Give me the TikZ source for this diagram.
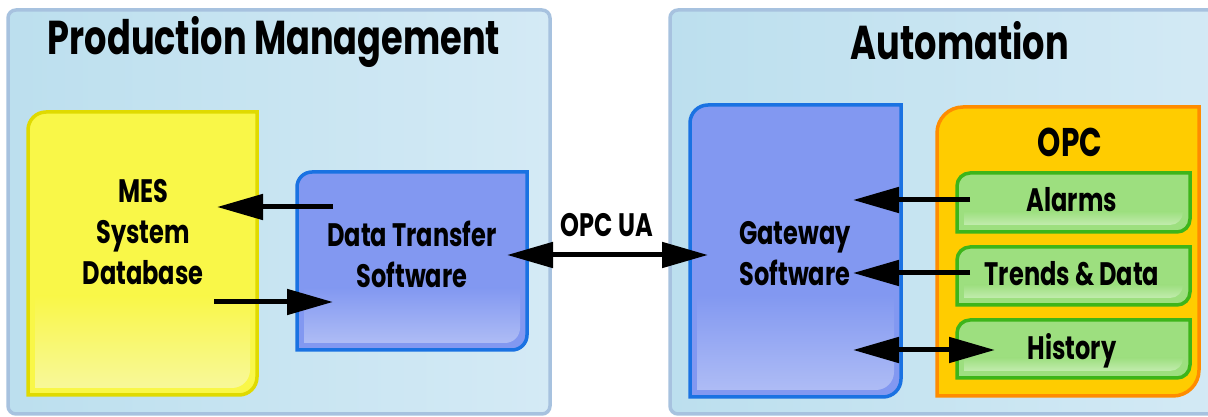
\documentclass[tikz,border=0pt]{standalone}
\usepackage{fontspec}
\setmainfont{Poppins}[FakeStretch=0.74]
\usetikzlibrary{arrows.meta}
\definecolor{panelL}{HTML}{BCDFEE}
\definecolor{panelR}{HTML}{D4EAF5}
\definecolor{panelB}{HTML}{A7C2DF}
\definecolor{ylw}{HTML}{F9F748}
\definecolor{ylwL}{HTML}{F8F89A}
\definecolor{ylwB}{HTML}{E0DA00}
\definecolor{blu}{HTML}{8298F1}
\definecolor{bluL}{HTML}{AEBCF5}
\definecolor{bluB}{HTML}{1A72E2}
\definecolor{org}{HTML}{FFCC00}
\definecolor{orgB}{HTML}{FF8C00}
\definecolor{grn}{HTML}{9DDF7F}
\definecolor{grnL}{HTML}{C2ECAE}
\definecolor{grnB}{HTML}{3DB51A}
\newcommand\gbox[8]{%
 \fill[#6] (#1,#2) -- (#1,#4-#5) arc[start angle=180,end angle=90,radius=#5] -- (#3,#4) -- (#3,#2+#5) arc[start angle=0,end angle=-90,radius=#5] -- cycle;
 \shade[top color=#6, bottom color=#7] (#1+7,#2+7) -- (#1+7,{#2+0.35*(#4-#2)}) -- (#3-7,{#2+0.35*(#4-#2)}) -- (#3-7,#2+7+#5) arc[start angle=0,end angle=-90,radius=#5] -- cycle;
 \draw[#8, line width=3.5pt] (#1,#2) -- (#1,#4-#5) arc[start angle=180,end angle=90,radius=#5] -- (#3,#4) -- (#3,#2+#5) arc[start angle=0,end angle=-90,radius=#5] -- cycle;
}
\tikzset{
 lbl/.style={font=\fontsize{32.5}{41}\selectfont\bfseries, align=center, inner sep=0pt},
 ttl/.style={font=\fontsize{47.5}{52}\selectfont\bfseries, inner sep=0pt, anchor=base},
 opcttl/.style={font=\fontsize{40}{46}\selectfont\bfseries, inner sep=0pt, anchor=base},
 tip/.tip={Triangle[length=46pt,width=25pt]},
 arr/.style={line width=5pt, -tip},
 darr/.style={line width=5pt, tip-tip},
 panel/.style={draw=panelB, line width=3.5pt, left color=panelL, right color=panelR, rounded corners=8pt},
}
\begin{document}
\begin{tikzpicture}[x=1pt,y=1pt]
\useasboundingbox (0,0) rectangle (1208,417);
\clip (0,0) rectangle (1208,417);
\fill[white] (0,0) rectangle (1208,417);
% panels
\draw[panel] (8,3) rectangle (550,407);
\draw[panel] (670,3) rectangle (1240,407);
\node[ttl] (pmt) at (274,362) {Production Management};
\node[ttl] (aut) at (960,357) {Automation};
% boxes
\gbox{28}{22}{257}{305}{18}{ylw}{ylwL}{ylwB}
\gbox{297}{67}{527}{245}{15}{blu}{bluL}{bluB}
\gbox{690}{20}{901}{312}{18}{blu}{bluL}{bluB}
\gbox{937}{21}{1199}{310}{26}{org}{org}{orgB}
\gbox{957}{185}{1190}{244}{13}{grn}{grnL}{grnB}
\gbox{957}{112}{1190}{170}{13}{grn}{grnL}{grnB}
\gbox{957}{39}{1190}{97}{13}{grn}{grnL}{grnB}
% labels
\node[lbl] (mes) at (143,185) {MES\\System\\Database};
\node[lbl] (dts) at (412,163) {Data Transfer\\Software};
\node[lbl] (gw) at (795,163) {Gateway\\Software};
\node[opcttl] (opc) at (1070,260) {OPC};
\node[lbl, anchor=base] (alarms) at (1072,205) {Alarms};
\node[lbl, anchor=base] (trends) at (1072,131) {Trends \& Data};
\node[lbl, anchor=base] (history) at (1072,57) {History};
\node[lbl, anchor=base] (opcua) at (607,180) {OPC UA};
% arrow end points
\coordinate (mesIn) at (217,210);
\coordinate (dtsOut) at (333,210);
\coordinate (mesOut) at (214,115);
\coordinate (dtsIn) at (333,115);
\coordinate (dtsR) at (507,162);
\coordinate (gwL) at (708,162);
\coordinate (gwA) at (853,217);
\coordinate (alA) at (970,217);
\coordinate (gwT) at (853,144);
\coordinate (trT) at (970,144);
\coordinate (gwH) at (853,67);
\coordinate (hiH) at (995,67);
% arrows
\draw[arr] (dtsOut) -- (mesIn);
\draw[arr] (mesOut) -- (dtsIn);
\draw[darr] (dtsR) -- (gwL);
\draw[arr] (alA) -- (gwA);
\draw[arr] (trT) -- (gwT);
\draw[darr] (gwH) -- (hiH);
\end{tikzpicture}
\end{document}
